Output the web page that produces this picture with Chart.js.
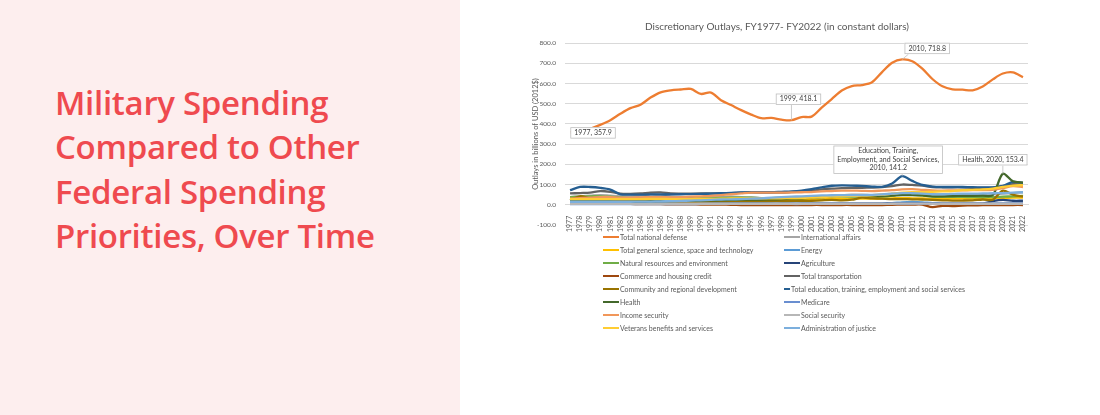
<!DOCTYPE html>
<html>
<head>
<meta charset="utf-8">
<script src="https://cdn.jsdelivr.net/npm/chart.js@4.4.0/dist/chart.umd.min.js"></script>
<style>
  body { margin: 0; width: 1100px; height: 415px; background: #fff; position: relative; overflow: hidden; }
  .side { position: absolute; left: 0; top: 0; width: 460px; height: 415px; background: #fdeeee; }
  .side h1 { position: absolute; left: 55px; top: 81px; margin: 0; font: 600 33px/44.3px "Open Sans", sans-serif; color: #ef4a4f; letter-spacing: -0.3px; }
  .chart-box { position: absolute; left: 526px; top: 0; width: 524px; height: 240px; }
  .legend { position: absolute; left: 603px; top: 230px; display: grid; grid-template-columns: 181px 181px; font: 7px Lato, sans-serif; color: #595959; }
  .legend div { height: 13px; display: flex; align-items: center; white-space: nowrap; }
  .legend span { display: inline-block; width: 16px; height: 2px; margin-right: 1px; }
</style>
</head>
<body>
<div class="side"><h1>Military Spending<br>Compared to Other<br>Federal Spending<br>Priorities, Over Time</h1></div>
<div class="chart-box"><canvas id="c"></canvas></div>
<div class="legend" id="legend"></div>
<script>
// fiscal years on the category axis
const years = [];
for (let y = 1977; y <= 2022; y++) years.push(String(y));

// outlays, billions of 2012 dollars
const defense = [357.9,362,376,395,418,450,478,495,530,556,566,570,573,548,555,517,493,468,446,428,430,421,418.1,434,436,480,523,565,587,592,606,656,702,718.8,710,673,622,586,571,569,566,585,620,649,655,631];
const intlAffairs = [38,42,45,48,45,42,42,45,50,48,42,38,38,38,38,38,40,38,36,33,32,32,33,36,35,38,42,47,50,50,48,50,55,58,57,55,52,50,50,52,52,52,52,55,58,62];
const science = [20,21,21,22,22,21,21,22,22,22,23,24,25,26,27,27,27,27,27,26,25,25,25,24,25,27,28,29,30,30,30,31,32,33,32,31,29,29,30,30,31,32,33,34,35,36];
const energy = [10,12,14,16,15,12,10,10,10,9,8,8,8,8,9,9,9,9,8,7,6,6,6,6,6,6,6,6,6,6,6,6,8,12,14,12,8,6,5,5,5,5,5,6,7,8];
const naturalRes = [38,40,42,42,40,35,33,33,33,31,30,30,30,31,32,34,35,35,35,33,33,34,35,36,38,39,40,40,40,41,40,40,45,55,52,46,40,39,39,39,38,38,38,40,42,44];
const agriculture = [6,6,6,6,6,6,6,6,6,6,6,6,6,6,6,6,6,6,6,6,5,5,5,5,6,6,6,6,6,6,6,6,7,7,7,7,6,6,6,6,6,6,18,24,20,20];
const commerce = [8,7,6,6,5,4,4,3,3,3,2,2,2,1,1,1,0,-1,-1,-1,-1,-1,-1,-1,-1,-1,-2,-1,-1,-1,-1,-1,0,1,1,1,-12,-5,-6,-4,-3,-2,-2,-2,-1,-1];
const transport = [56,58,60,68,64,55,54,56,60,61,56,55,55,56,56,57,58,60,61,60,60,60,63,66,70,76,80,82,84,84,85,87,92,100,98,95,88,86,86,86,84,84,85,92,102,100];
const community = [22,42,32,30,28,22,20,20,20,20,17,16,15,15,16,17,18,18,18,18,18,18,19,19,20,22,24,22,25,35,32,30,28,28,27,26,24,22,21,21,22,26,25,70,50,40];
const education = [72,88,88,84,75,52,50,50,51,51,51,52,53,54,55,57,59,61,63,62,62,64,66,70,77,86,94,96,95,93,90,89,105,141.2,118,98,90,88,88,88,87,86,86,93,113,108];
const health = [18,19,19,19,18,16,16,17,17,17,18,19,20,21,22,23,24,25,26,26,27,28,30,32,35,38,42,44,45,45,44,44,45,48,48,46,42,42,43,44,44,45,48,153.4,116,110];
const medicare = [3,3,3,3,3,3,3,3,3,3,3,3,3,4,4,4,4,4,4,4,4,4,4,4,5,5,5,5,5,5,5,5,6,6,6,6,6,6,6,6,6,6,6,7,7,8];
const incomeSec = [30,33,35,38,38,35,35,37,38,38,37,38,40,42,44,48,52,56,60,60,60,60,61,62,63,66,68,70,70,69,68,70,72,76,77,74,71,70,71,71,72,73,74,82,92,88];
const socialSec = [4,4,4,4,4,4,4,4,5,5,5,5,5,5,5,5,5,5,5,5,5,5,5,5,5,5,5,5,5,5,5,5,5,6,6,6,5,5,5,5,5,5,5,5,5,5];
const veterans = [28,28,28,28,28,28,28,28,29,29,28,28,28,29,29,30,31,31,32,32,32,32,33,34,35,38,40,42,44,45,47,50,55,60,62,62,64,66,68,72,74,76,80,88,95,97];
const justice = [15,15,15,15,15,15,15,16,16,17,18,19,21,22,24,26,27,28,30,32,35,38,40,42,44,46,47,48,48,48,49,51,55,58,57,55,52,52,54,55,55,56,57,58,60,62];

const seriesNames = [
  'Total national defense', 'International affairs',
  'Total general science, space and technology', 'Energy',
  'Natural resources and environment', 'Agriculture',
  'Commerce and housing credit', 'Total transportation',
  'Community and regional development', 'Total education, training, employment and social services',
  'Health', 'Medicare',
  'Income security', 'Social security',
  'Veterans benefits and services', 'Administration of justice'
];
const seriesValues = [defense, intlAffairs, science, energy, naturalRes, agriculture, commerce, transport,
  community, education, health, medicare, incomeSec, socialSec, veterans, justice];
const seriesColors = ['#ED7D31', '#A5A5A5', '#FFC000', '#5B9BD5', '#70AD47', '#264478', '#9E480E', '#636363',
  '#997300', '#255E91', '#43682B', '#698ED0', '#F1975A', '#B7B7B7', '#FFCD33', '#7CAFDD'];

// callout labels: series index, year, text lines, box centre offset from the point
const callouts = [
  { s: 0, year: '1977', lines: ['1977, 357.9'], dx: 23, dy: 0.5 },
  { s: 0, year: '1999', lines: ['1999, 418.1'], dx: 7, dy: -21 },
  { s: 0, year: '2010', lines: ['2010, 718.8'], dx: 25, dy: -11 },
  { s: 9, year: '2010', lines: ['Education, Training,', 'Employment, and Social Services,', '2010, 141.2'], dx: -14, dy: -16.5 },
  { s: 10, year: '2020', lines: ['Health, 2020, 153.4'], dx: -10, dy: -14 }
];

const FONT = 'Lato, sans-serif';
const TEXT = '#595959';

const calloutPlugin = {
  id: 'callouts',
  afterDatasetsDraw(chart) {
    const ctx = chart.ctx;
    const x = chart.scales.x, y = chart.scales.y;
    ctx.save();
    ctx.font = '7px ' + FONT;
    callouts.forEach(c => {
      const i = years.indexOf(c.year);
      const px = x.getPixelForValue(i);
      const py = y.getPixelForValue(seriesValues[c.s][i]);
      const w = Math.max(...c.lines.map(l => ctx.measureText(l).width)) + 8;
      const h = c.lines.length * 8.5 + 3;
      const cx = px + c.dx, cy = py + c.dy;
      // leader line
      ctx.strokeStyle = '#bfbfbf';
      ctx.lineWidth = 0.8;
      ctx.beginPath();
      const ex = Math.min(Math.max(px, cx - w / 2 + 4), cx + w / 2 - 4);
      const ey = py < cy - h / 2 ? cy - h / 2 : (py > cy + h / 2 ? cy + h / 2 : cy);
      ctx.moveTo(ex, ey);
      ctx.lineTo(px, py);
      ctx.stroke();
      ctx.fillStyle = '#fff';
      ctx.fillRect(cx - w / 2, cy - h / 2, w, h);
      ctx.strokeRect(cx - w / 2 + 0.5, cy - h / 2 + 0.5, w - 1, h - 1);
      ctx.fillStyle = '#404040';
      ctx.textAlign = 'center';
      ctx.textBaseline = 'middle';
      c.lines.forEach((l, k) => {
        ctx.fillText(l, cx, cy - h / 2 + 1.5 + 4.25 + k * 8.5);
      });
    });
    ctx.restore();
  }
};

const datasets = seriesNames.map((name, i) => ({
  label: name,
  data: seriesValues[i],
  borderColor: seriesColors[i],
  backgroundColor: seriesColors[i],
  borderWidth: 2.3,
  pointRadius: 0,
  tension: 0.3,
  order: seriesNames.length - i
}));

new Chart(document.getElementById('c'), {
  type: 'line',
  data: { labels: years, datasets: datasets },
  options: {
    responsive: true,
    maintainAspectRatio: false,
    animation: false,
    layout: { padding: { top: 4, right: 22, bottom: 15, left: 0 } },
    scales: {
      x: {
        type: 'category',
        offset: true,
        position: { y: 0 },
        grid: { display: false },
        border: { color: '#d9d9d9' },
        ticks: {
          color: TEXT,
          font: { family: FONT, size: 7 },
          minRotation: 90,
          maxRotation: 90,
          autoSkip: false,
          padding: 3
        }
      },
      y: {
        min: -100,
        max: 800,
        afterFit: (scale) => { scale.width = 39; },
        grid: { color: '#d9d9d9', drawTicks: false },
        border: { display: false },
        title: {
          display: true,
          text: 'Outlays in billions of USD (2012$)',
          color: TEXT,
          font: { family: FONT, size: 7.5 },
          padding: { top: 5, bottom: 0 }
        },
        ticks: {
          stepSize: 100,
          color: TEXT,
          font: { family: FONT, size: 6.5 },
          padding: 9,
          callback: (v) => v.toFixed(1)
        }
      }
    },
    plugins: {
      legend: { display: false },
      tooltip: { enabled: false },
      title: {
        display: true,
        text: 'Discretionary Outlays, FY1977- FY2022 (in constant dollars)',
        color: TEXT,
        font: { family: FONT, size: 10, weight: 'normal' },
        padding: { top: 17, bottom: 10 }
      }
    }
  },
  plugins: [calloutPlugin]
});

// two-column legend in the same order as the source chart
const legend = document.getElementById('legend');
seriesNames.forEach((name, i) => {
  const row = document.createElement('div');
  const sw = document.createElement('span');
  sw.style.background = seriesColors[i];
  row.appendChild(sw);
  row.appendChild(document.createTextNode(name));
  legend.appendChild(row);
});
</script>
</body>
</html>
